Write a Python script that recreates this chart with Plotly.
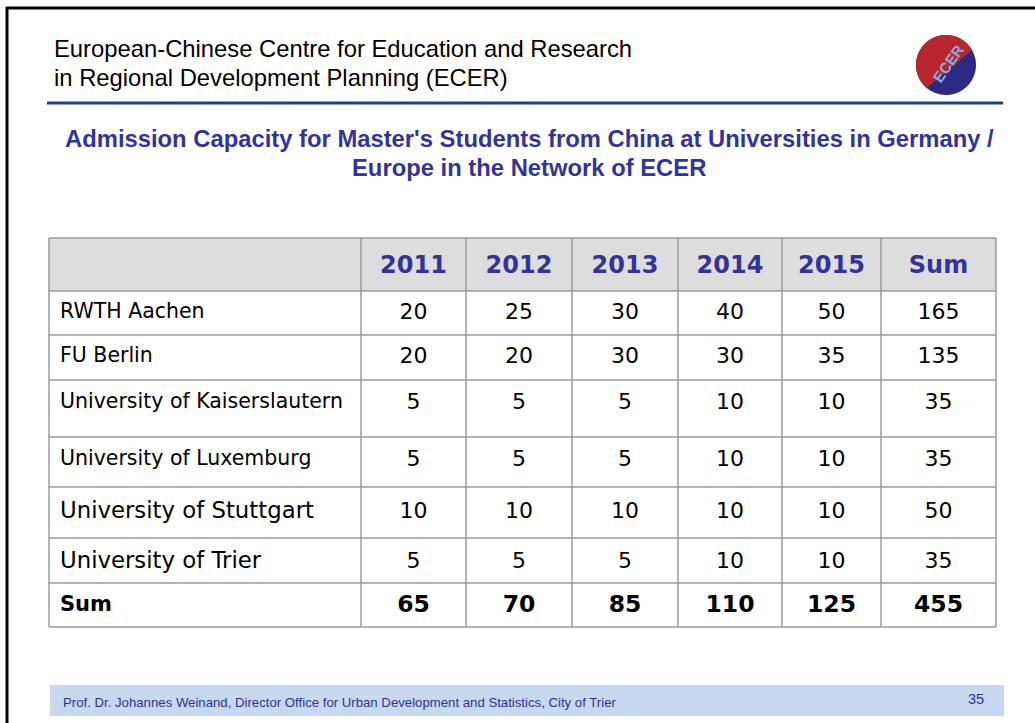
import numpy as np
import plotly.graph_objects as go

# ---------------- data ----------------
years = ["2011", "2012", "2013", "2014", "2015", "Sum"]
universities = ["RWTH Aachen", "FU Berlin", "University of Kaiserslautern",
                "University of Luxemburg", "University of Stuttgart", "University of Trier"]
v2011 = [20, 20, 5, 5, 10, 5]
v2012 = [25, 20, 5, 5, 10, 5]
v2013 = [30, 30, 5, 5, 10, 5]
v2014 = [40, 30, 10, 10, 10, 10]
v2015 = [50, 35, 10, 10, 10, 10]
row_sums = [165, 135, 35, 35, 50, 35]
col_sums = [65, 70, 85, 110, 125, 455]
sum_label = "Sum"

header_lines = ["European-Chinese Centre for Education and Research",
                "in Regional Development Planning (ECER)"]
title_lines = ["Admission Capacity for Master's Students from China at Universities in Germany /",
               "Europe in the Network of ECER"]
footer_text = "Prof. Dr. Johannes Weinand, Director Office for Urban Development and Statistics, City of Trier"
page_number = "35"

# ---------------- layout (pixels) ----------------
W, H = 1035, 723
col_edges = [49, 361, 466, 572, 678, 782, 881, 996]
row_edges = [238, 291, 335, 380, 437, 487, 538, 583, 627]
row_text_y = [267, 313, 357, 403, 460, 512, 562, 606]
label_sizes = [20.5, 20.5, 20.5, 20.5, 22.8, 22.8]
TABLE_FONT = "DejaVu Sans"
ARIAL = "Liberation Sans"
BLUE_TXT = "#333399"
GRID = "#9a9a9a"

fig = go.Figure()

shapes = []
# slide border (top + left)
shapes.append(dict(type="line", x0=6, x1=W, y0=8, y1=8, line=dict(color="black", width=3)))
shapes.append(dict(type="line", x0=7, x1=7, y0=7, y1=H, line=dict(color="black", width=3)))
# header rule
shapes.append(dict(type="line", x0=47, x1=1003, y0=103, y1=103, line=dict(color="#1f4384", width=3)))
# footer band
shapes.append(dict(type="rect", x0=50, x1=1004, y0=685, y1=716, fillcolor="#c6d9f1", line=dict(width=0), layer="below"))
# table header background
shapes.append(dict(type="rect", x0=col_edges[0], x1=col_edges[-1], y0=row_edges[0], y1=row_edges[1],
                   fillcolor="#dddddd", line=dict(width=0), layer="below"))
# grid
for x in col_edges:
    shapes.append(dict(type="line", x0=x, x1=x, y0=row_edges[0], y1=row_edges[-1], line=dict(color=GRID, width=1.5)))
for y in row_edges:
    shapes.append(dict(type="line", x0=col_edges[0], x1=col_edges[-1], y0=y, y1=y, line=dict(color=GRID, width=1.5)))

# logo
cx, cy, r = 946, 65, 30
t = np.linspace(0, 2 * np.pi, 80)
circle = "M " + " L ".join(f"{cx + r*np.cos(a):.2f},{cy + r*np.sin(a):.2f}" for a in t) + " Z"
shapes.append(dict(type="path", path=circle, fillcolor="#2d2a85", line=dict(width=0)))
t2 = np.linspace(np.deg2rad(-30), np.deg2rad(-30) - np.pi - np.deg2rad(20), 60)
half = "M " + " L ".join(f"{cx + r*np.cos(a):.2f},{cy + r*np.sin(a):.2f}" for a in t2) + " Z"
shapes.append(dict(type="path", path=half, fillcolor="#b8262f", line=dict(width=0)))
# small EU stars ring
ts = np.linspace(0, 2 * np.pi, 12, endpoint=False)
star_x = cx + 8 + 7 * np.cos(ts)
star_y = cy + 17 + 7 * np.sin(ts)

# header cells
fig.add_trace(go.Scatter(
    x=[(col_edges[i + 1] + col_edges[i + 2]) / 2 for i in range(len(years))],
    y=[row_text_y[0]] * len(years),
    text=[f"<b>{y}</b>" for y in years], mode="text", textposition="middle center",
    textfont=dict(family=TABLE_FONT, size=24, color=BLUE_TXT), hoverinfo="skip"))

# row labels
for i, name in enumerate(universities):
    fig.add_trace(go.Scatter(
        x=[col_edges[0] + 11], y=[row_text_y[i + 1]], text=[name], mode="text",
        textposition="middle right",
        textfont=dict(family=TABLE_FONT, size=label_sizes[i], color="black"), hoverinfo="skip"))
fig.add_trace(go.Scatter(
    x=[col_edges[0] + 11], y=[row_text_y[-1]], text=[f"<b>{sum_label}</b>"], mode="text",
    textposition="middle right", textfont=dict(family=TABLE_FONT, size=21, color="black"), hoverinfo="skip"))

# values
columns = [v2011, v2012, v2013, v2014, v2015, row_sums]
for j, col in enumerate(columns):
    xc = (col_edges[j + 1] + col_edges[j + 2]) / 2
    fig.add_trace(go.Scatter(
        x=[xc] * len(col), y=row_text_y[1:1 + len(col)], text=[str(v) for v in col],
        mode="text", textposition="middle center",
        textfont=dict(family=TABLE_FONT, size=22, color="black"), hoverinfo="skip"))
fig.add_trace(go.Scatter(
    x=[(col_edges[j + 1] + col_edges[j + 2]) / 2 for j in range(len(col_sums))],
    y=[row_text_y[-1]] * len(col_sums), text=[f"<b>{v}</b>" for v in col_sums],
    mode="text", textposition="middle center",
    textfont=dict(family=TABLE_FONT, size=23.5, color="black"), hoverinfo="skip"))

# logo stars
fig.add_trace(go.Scatter(x=star_x, y=star_y, mode="markers",
                         marker=dict(symbol="star", size=3, color="#e8d84a"), hoverinfo="skip"))
fig.add_trace(go.Scatter(x=[933], y=[47], mode="markers",
                         marker=dict(symbol="star", size=8, color="#f5e02a"), hoverinfo="skip"))

annotations = []
for k, line in enumerate(header_lines):
    annotations.append(dict(x=52, y=[48, 77][k], xref="x", yref="y", text=line, showarrow=False,
                            xanchor="left", yanchor="middle",
                            font=dict(family=ARIAL, size=23.8, color="black")))
for k, line in enumerate(title_lines):
    annotations.append(dict(x=529, y=[138, 167][k], xref="x", yref="y", text=f"<b>{line}</b>",
                            showarrow=False, xanchor="center", yanchor="middle",
                            font=dict(family=ARIAL, size=23.8, color=BLUE_TXT)))
annotations.append(dict(x=61, y=702, xref="x", yref="y", text=footer_text, showarrow=False,
                        xanchor="left", yanchor="middle", font=dict(family=ARIAL, size=13.2, color="#2e3192")))
annotations.append(dict(x=976, y=699, xref="x", yref="y", text=page_number, showarrow=False,
                        xanchor="center", yanchor="middle", font=dict(family=ARIAL, size=14.5, color="#2e3192")))
annotations.append(dict(x=948, y=63, xref="x", yref="y", text="<b>ECER</b>", showarrow=False,
                        textangle=-55, xanchor="center", yanchor="middle",
                        font=dict(family=ARIAL, size=15, color="#7fb2e5")))

fig.update_layout(
    width=W, height=H, autosize=False,
    margin=dict(l=0, r=0, t=0, b=0),
    paper_bgcolor="white", plot_bgcolor="white",
    showlegend=False, shapes=shapes, annotations=annotations,
    xaxis=dict(range=[0, W], visible=False, fixedrange=True),
    yaxis=dict(range=[H, 0], visible=False, fixedrange=True),
)

fig.write_html("out.html", config={"displayModeBar": False},
               post_script="document.body.style.margin='0';document.body.style.overflow='hidden';")
